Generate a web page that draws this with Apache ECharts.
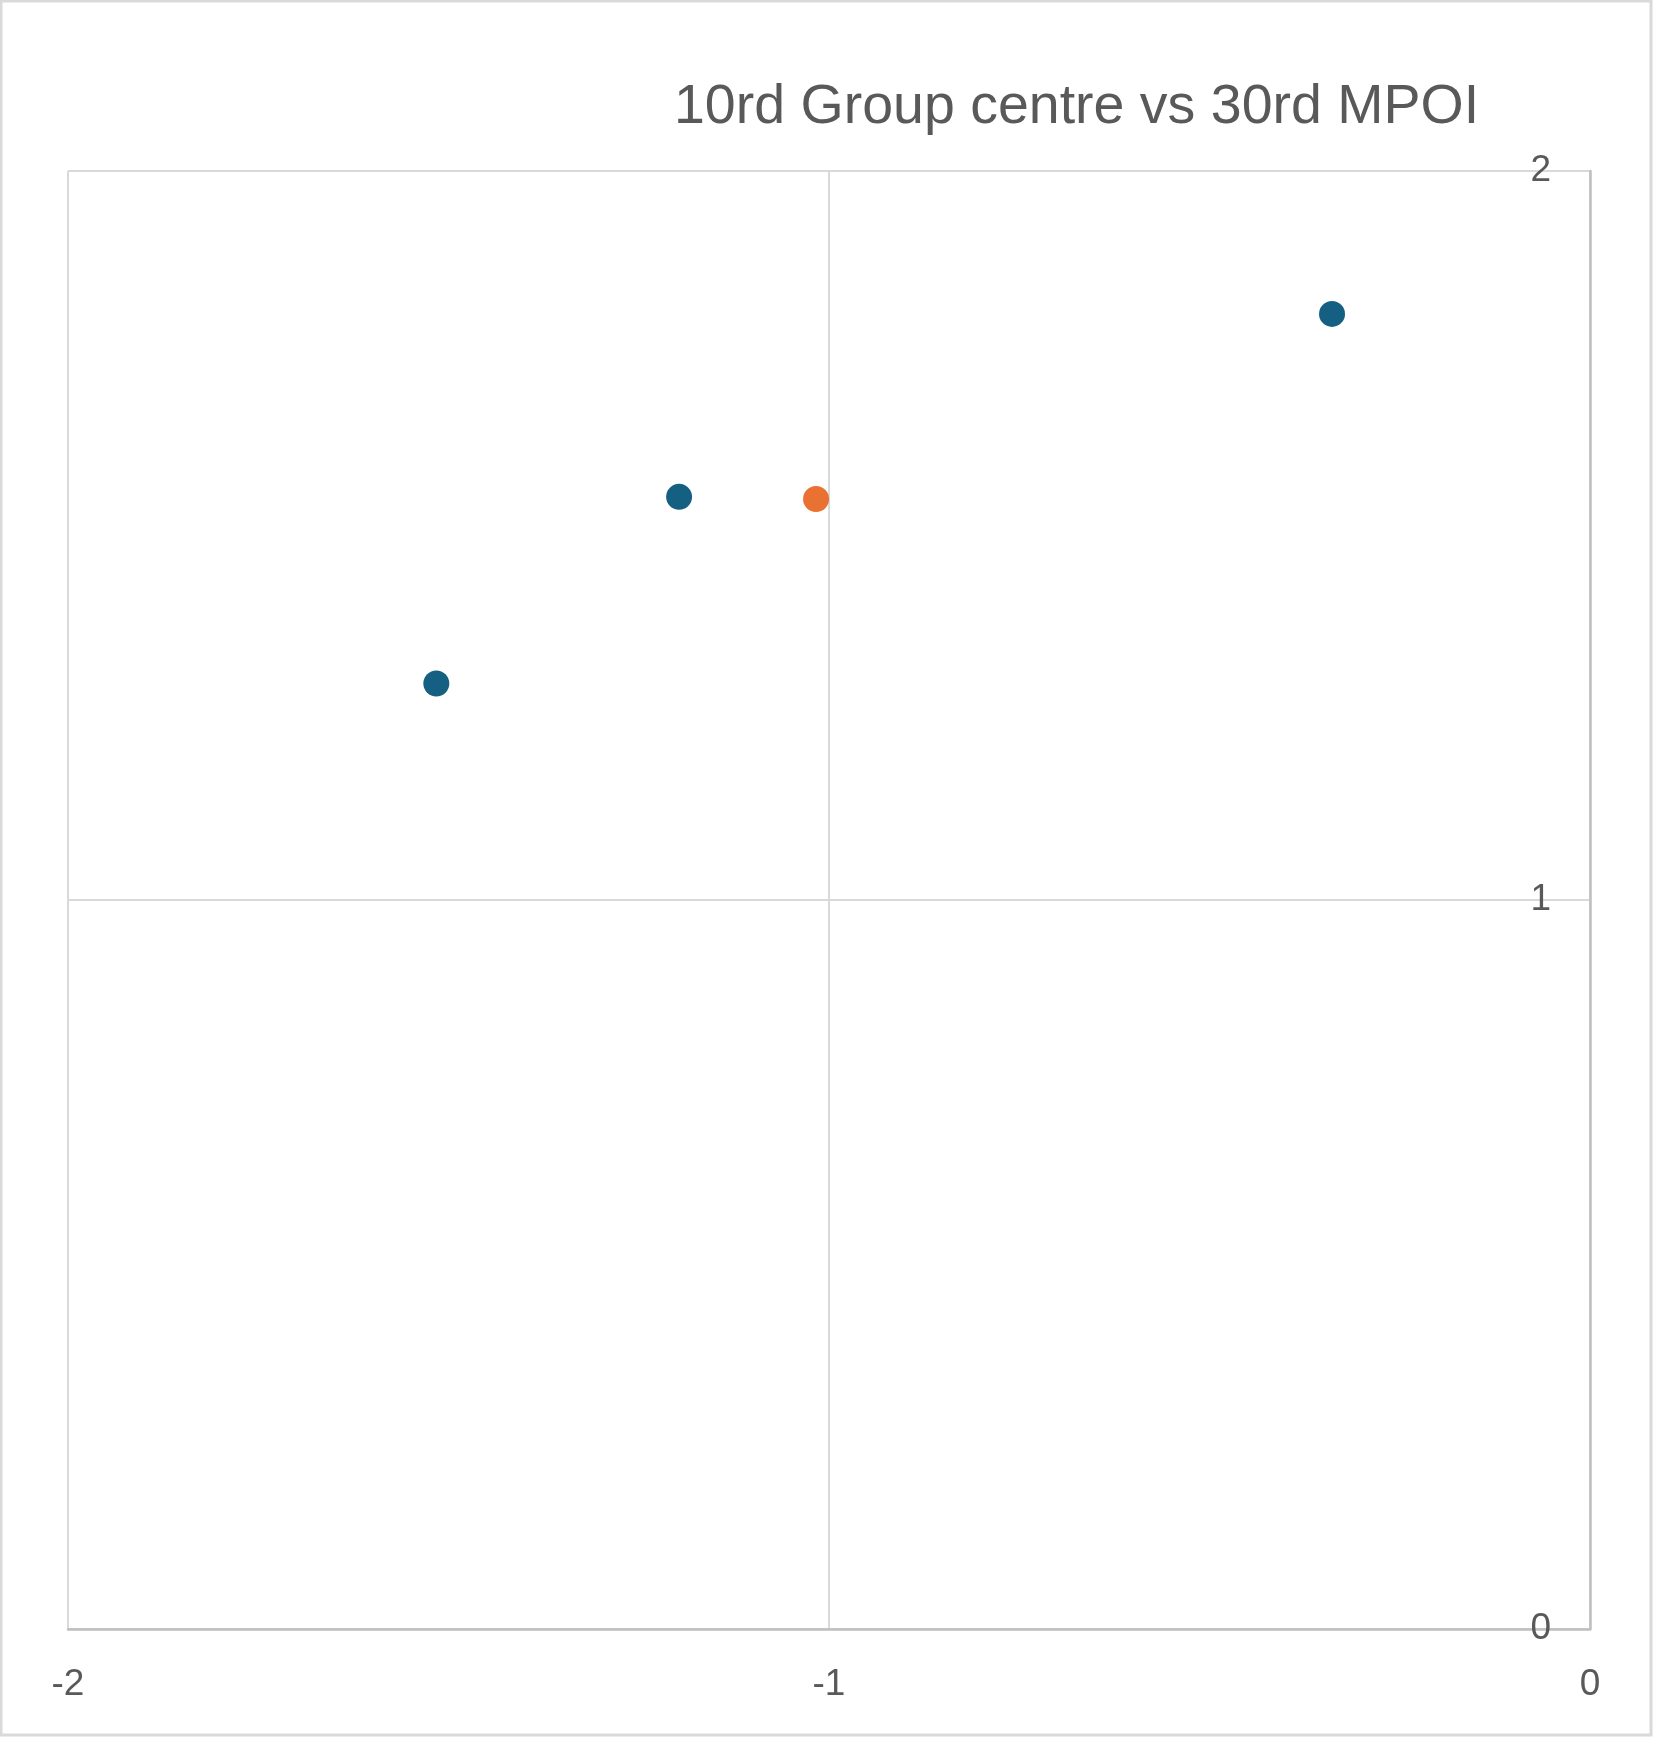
<!DOCTYPE html>
<html>
<head>
<meta charset="utf-8">
<script src="https://cdn.jsdelivr.net/npm/echarts@6/dist/echarts.min.js"></script>
<style>
  html, body { margin: 0; padding: 0; background: #fff; }
  #main { width: 1653px; height: 1737px; }
</style>
</head>
<body>
<div id="main"></div>
<script>
    var titleText = '10rd Group centre vs 30rd MPOI';
    // blue points (group centres)
    var groupX = [-0.339, -1.197, -1.516];
    var groupY = [1.804, 1.553, 1.297];
    // orange point
    var mpoiX = [-1.017];
    var mpoiY = [1.550];

    var xMin = -2, xMax = 0, xStep = 1;
    var yMin = 0, yMax = 2, yStep = 1;

    var data0 = [];
    for (let i = 0; i < groupX.length; i++) {
        data0.push([groupX[i], groupY[i]]);
    }
    var data1 = [];
    for (let i = 0; i < mpoiX.length; i++) {
        data1.push([mpoiX[i], mpoiY[i]]);
    }

    var font = "'Liberation Sans', Arial, sans-serif";
    var chart = echarts.init(document.getElementById('main'));
    chart.setOption({
        animation: false,
        backgroundColor: '#ffffff',
        title: {
            text: titleText,
            left: 669,
            top: 75,
            textStyle: {
                fontFamily: font,
                fontSize: 55.5,
                fontWeight: 'normal',
                color: '#595959'
            }
        },
        graphic: [{
            type: 'rect',
            shape: { x: 1, y: 1, width: 1650, height: 1734 },
            style: { fill: 'none', stroke: '#d9d9d9', lineWidth: 3 },
            silent: true
        }],
        grid: {
            left: 68,
            right: 63,
            top: 171,
            bottom: 108
        },
        xAxis: {
            type: 'value',
            min: xMin,
            max: xMax,
            interval: xStep,
            position: 'bottom',
            axisLine: { onZero: false, lineStyle: { color: '#bfbfbf', width: 2.5 } },
            axisTick: { show: false },
            splitLine: { show: true, lineStyle: { color: '#d9d9d9', width: 2 } },
            axisLabel: {
                margin: 37,
                fontFamily: font,
                fontSize: 37,
                color: '#595959'
            }
        },
        yAxis: {
            type: 'value',
            min: yMin,
            max: yMax,
            interval: yStep,
            position: 'right',
            axisLine: { show: true, onZero: false, lineStyle: { color: '#bfbfbf', width: 2.5 } },
            axisTick: { show: false },
            splitLine: { show: true, lineStyle: { color: '#d9d9d9', width: 2 } },
            axisLabel: {
                inside: true,
                margin: 39,
                fontFamily: font,
                fontSize: 37,
                color: '#595959'
            }
        },
        series: [{
            name: '10rd Group centre',
            type: 'scatter',
            symbolSize: 26,
            data: data0,
            itemStyle: { color: '#156082', opacity: 1 }
        }, {
            name: '30rd MPOI',
            type: 'scatter',
            symbolSize: 26,
            data: data1,
            itemStyle: { color: '#e97132', opacity: 1 }
        }]
    });
</script>
</body>
</html>
